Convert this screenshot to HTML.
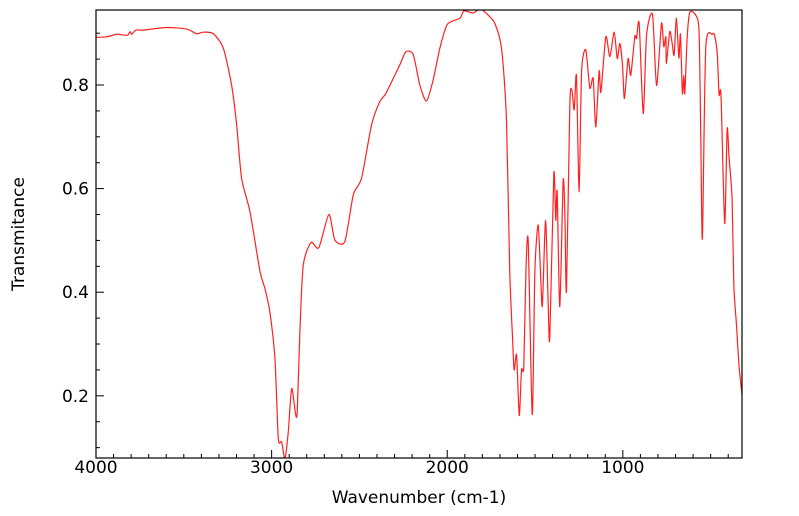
<!DOCTYPE html>
<html><head><meta charset="utf-8"><style>
html,body{margin:0;padding:0;background:#fff;width:799px;height:516px;overflow:hidden}
text{font-family:"DejaVu Sans","Liberation Sans",sans-serif;fill:#000}
</style></head><body>
<svg id="chart" width="799" height="516" xmlns="http://www.w3.org/2000/svg">
<defs><clipPath id="pc"><rect x="96" y="10" width="646" height="448"/></clipPath></defs>
<g id="ticks"></g>
<g id="labels"></g>
<path id="line" fill="none" stroke="#ff2020" stroke-width="1.2" clip-path="url(#pc)"/>
<rect x="96" y="10" width="646" height="448" fill="none" stroke="#000" stroke-width="1.2"/>
<text x="419" y="503" font-size="17" text-anchor="middle">Wavenumber (cm-1)</text>
<text x="24" y="234" font-size="17" text-anchor="middle" transform="rotate(-90 24 234)">Transmitance</text>
</svg>
<script>
const wavenumbers=[4000,3939,3882,3822,3806,3797,3772,3731,3598,3484,3427,3389,3332,3275,3228,3199,3171,3123,3066,3038,3010,2981,2962,2943,2924,2905,2886,2864,2854,2839,2820,2776,2731,2674,2640,2583,2535,2488,2431,2384,2349,2270,2236,2194,2156,2118,2080,2042,2000,1928,1905,1852,1814,1776,1729,1691,1663,1644,1628,1619,1605,1590,1577,1564,1552,1539,1516,1501,1482,1467,1458,1440,1425,1416,1393,1382,1374,1359,1340,1330,1321,1302,1290,1277,1264,1249,1235,1211,1188,1169,1154,1135,1125,1097,1074,1049,1032,1017,1002,991,970,955,932,922,907,884,865,831,808,780,767,755,752,733,719,708,695,681,672,661,653,647,634,619,585,566,556,547,528,490,477,462,452,441,420,406,395,378,368,353,338,321];
const transmittance=[0.892,0.893,0.898,0.896,0.903,0.898,0.906,0.906,0.911,0.908,0.899,0.902,0.899,0.871,0.800,0.723,0.620,0.555,0.440,0.407,0.362,0.272,0.118,0.111,0.079,0.131,0.214,0.166,0.169,0.324,0.452,0.496,0.486,0.550,0.501,0.498,0.588,0.620,0.723,0.768,0.784,0.839,0.864,0.859,0.800,0.769,0.810,0.871,0.917,0.929,0.943,0.939,0.947,0.938,0.919,0.871,0.736,0.440,0.311,0.250,0.279,0.162,0.250,0.256,0.440,0.499,0.164,0.440,0.530,0.422,0.375,0.539,0.375,0.312,0.629,0.539,0.594,0.372,0.615,0.549,0.402,0.761,0.790,0.752,0.818,0.594,0.826,0.868,0.794,0.813,0.719,0.827,0.786,0.893,0.855,0.902,0.851,0.880,0.839,0.774,0.851,0.819,0.893,0.890,0.919,0.745,0.896,0.936,0.799,0.919,0.874,0.893,0.842,0.903,0.880,0.858,0.929,0.852,0.898,0.784,0.819,0.784,0.890,0.940,0.935,0.903,0.697,0.504,0.871,0.898,0.895,0.858,0.781,0.779,0.533,0.715,0.658,0.581,0.414,0.337,0.256,0.201];
const xTickValues=[4000,3000,2000,1000];
const xTickLabels=["4000","3000","2000","1000"];
const yTickValues=[0.2,0.4,0.6,0.8];
const yTickLabels=["0.2","0.4","0.6","0.8"];
const X0=96,X1=742,Y0=10,Y1=458,WMAX=4000,WMIN=321.5,TMAX=0.9448,TMIN=0.0800;
function xs(w){return X0+(WMAX-w)/(WMAX-WMIN)*(X1-X0);}
function ys(t){return Y1-(t-TMIN)/(TMAX-TMIN)*(Y1-Y0);}
const NS="http://www.w3.org/2000/svg";
const P=wavenumbers.map((w,i)=>[xs(w),ys(transmittance[i])]);
let d="M"+P[0][0].toFixed(2)+","+P[0][1].toFixed(2);
for(let i=0;i<P.length-1;i++){
  const p0=P[Math.max(0,i-1)],p1=P[i],p2=P[i+1],p3=P[Math.min(P.length-1,i+2)];
  const k=0.12;
  const c1x=p1[0]+(p2[0]-p0[0])*k,c1y=p1[1]+(p2[1]-p0[1])*k;
  const c2x=p2[0]-(p3[0]-p1[0])*k,c2y=p2[1]-(p3[1]-p1[1])*k;
  d+="C"+c1x.toFixed(2)+","+c1y.toFixed(2)+" "+c2x.toFixed(2)+","+c2y.toFixed(2)+" "+p2[0].toFixed(2)+","+p2[1].toFixed(2);
}
document.getElementById("line").setAttribute("d",d);
const tg=document.getElementById("ticks"),lg=document.getElementById("labels");
function ln(x1,y1,x2,y2){const l=document.createElementNS(NS,"line");l.setAttribute("x1",x1);l.setAttribute("y1",y1);l.setAttribute("x2",x2);l.setAttribute("y2",y2);l.setAttribute("stroke","#000");l.setAttribute("stroke-width","1");


tg.appendChild(l);}
for(let w=4000;w>WMIN;w-=100){const x=xs(w);const major=w%1000===0;ln(x,Y1,x,Y1-(major?8:4));}
for(let t=0.1;t<TMAX;t+=0.05){const y=ys(t);const major=Math.abs(t*10-Math.round(t*10))<1e-6&&Math.round(t*10)%2===0;ln(X0,y,X0+(major?8:4),y);}
xTickValues.forEach((v,i)=>{const t=document.createElementNS(NS,"text");t.setAttribute("x",xs(v));t.setAttribute("y",473);t.setAttribute("font-size","17");t.setAttribute("text-anchor","middle");t.textContent=xTickLabels[i];


lg.appendChild(t);});
yTickValues.forEach((v,i)=>{const t=document.createElementNS(NS,"text");t.setAttribute("x",89);t.setAttribute("y",ys(v)+6);t.setAttribute("font-size","17");t.setAttribute("text-anchor","end");t.textContent=yTickLabels[i];


lg.appendChild(t);});
</script>
</body></html>
